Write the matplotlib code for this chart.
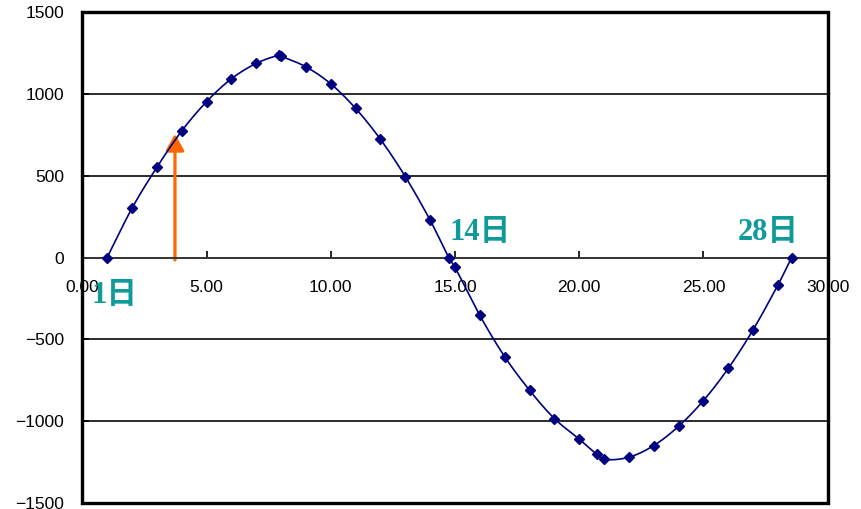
import numpy as np
import matplotlib
matplotlib.use("Agg")
import matplotlib.pyplot as plt
from matplotlib.patches import Rectangle
from matplotlib.ticker import FormatStrFormatter

# Day of the cycle and the measured value on that day
days = [1, 2, 3, 4, 5, 6, 7, 7.9, 8, 9, 10, 11, 12, 13, 14, 14.75, 15,
        16, 17, 18, 19, 20, 20.7, 21, 22, 23, 24, 25, 26, 27, 28, 28.55]
values = [0, 301, 551, 773, 952, 1092, 1186, 1236, 1230, 1165, 1061, 911,
          722, 494, 228, 0, -60, -354, -606, -811, -984, -1110, -1202,
          -1234, -1220, -1149, -1031, -874, -677, -441, -167, 0]

# Labelled days and the marked day
day_labels = ["1日", "14日", "28日"]
label_x = [0.38, 14.78, 26.37]
label_y = [-235, 155, 155]
arrow_day = 3.73
arrow_value = 755

x_ticks = [0, 5, 10, 15, 20, 25, 30]
y_ticks = [-1500, -1000, -500, 0, 500, 1000, 1500]


def smooth_curve(x, y, n=20):
    """Cardinal-spline path through the points (smoothed line)."""
    x = np.asarray(x, float)
    y = np.asarray(y, float)
    m = np.empty_like(y)
    m[1:-1] = (y[2:] - y[:-2]) / (x[2:] - x[:-2])
    m[0] = (y[1] - y[0]) / (x[1] - x[0])
    m[-1] = (y[-1] - y[-2]) / (x[-1] - x[-2])
    xs, ys = [], []
    for i in range(len(x) - 1):
        h = x[i + 1] - x[i]
        t = np.linspace(0, 1, n, endpoint=False)
        h00 = 2 * t**3 - 3 * t**2 + 1
        h10 = t**3 - 2 * t**2 + t
        h01 = -2 * t**3 + 3 * t**2
        h11 = t**3 - t**2
        xs.append(x[i] + t * h)
        ys.append(h00 * y[i] + h10 * h * m[i] + h01 * y[i + 1] + h11 * h * m[i + 1])
    xs.append([x[-1]])
    ys.append([y[-1]])
    return np.concatenate(xs), np.concatenate(ys)


plt.rcParams["font.family"] = ["Liberation Sans", "DejaVu Sans"]

fig = plt.figure(figsize=(8.62, 5.09), dpi=100)
fig.patch.set_facecolor("white")
ax = fig.add_axes([82.3 / 862, 6 / 509, (827.7 - 82.3) / 862, 491 / 509])

ax.set_xlim(0, 30)
ax.set_ylim(-1500, 1500)

# horizontal gridlines
for yv in y_ticks:
    if yv not in (-1500, 0, 1500):
        ax.axhline(yv, color="#1a1a1a", lw=1.3, zorder=1)

# category axis crosses at zero
for side in ("left", "right", "top"):
    ax.spines[side].set_linewidth(2.2)
    ax.spines[side].set_color("black")
ax.spines["bottom"].set_position(("data", 0))
ax.spines["bottom"].set_linewidth(1.4)
ax.spines["bottom"].set_color("#333333")
ax.add_patch(Rectangle((0, 0), 1, 1, transform=ax.transAxes, fill=False,
                       lw=2.4, edgecolor="black", clip_on=False, zorder=5))

ax.set_xticks(x_ticks)
ax.xaxis.set_major_formatter(FormatStrFormatter("%.2f"))
ax.set_yticks(y_ticks)
ax.tick_params(axis="x", direction="in", length=5, width=1.2, pad=16.5,
               labelsize=12.5, colors="black")
ax.tick_params(axis="y", direction="in", length=5, width=1.2, pad=13,
               labelsize=12.5, colors="black")

# smoothed line with diamond markers
sx, sy = smooth_curve(days, values)
ax.plot(sx, sy, color="#000080", lw=1.2, zorder=3, clip_on=False)
ax.plot(days, values, linestyle="none", marker="D", markersize=5.5,
        color="#000080", zorder=4, clip_on=False)

# arrow marking the day
ax.annotate("", xy=(arrow_day, arrow_value), xytext=(arrow_day, -15),
            arrowprops=dict(arrowstyle="-|>,head_length=0.5,head_width=0.28",
                            mutation_scale=20, color="#FF6600", lw=2.3,
                            shrinkA=0, shrinkB=0),
            zorder=2)

for txt, lx, ly in zip(day_labels, label_x, label_y):
    ax.text(lx, ly, txt, ha="left", va="center", fontsize=22,
            fontweight="bold", color="#109A9A",
            family=["Liberation Serif", "Noto Sans CJK JP"], zorder=6)

fig.savefig("out.png", dpi=100, facecolor="white")
